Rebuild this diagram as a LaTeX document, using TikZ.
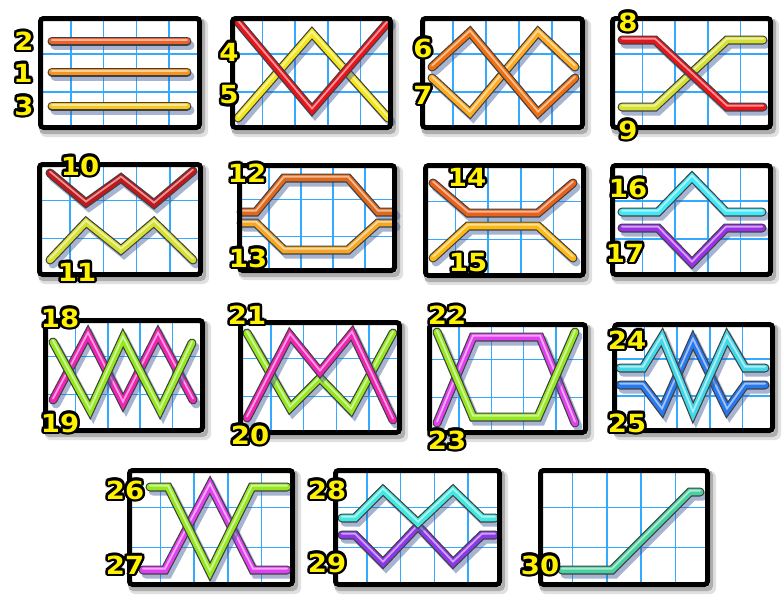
\documentclass[tikz,border=0pt]{standalone}
\usepackage{fontspec}
\newfontfamily\lblfont{DejaVu Sans}[FakeStretch=1.1]
\definecolor{gridblue}{HTML}{33AAFF}
\definecolor{shadowblue}{HTML}{3A5A9A}
\definecolor{cA}{HTML}{F0602A}
\definecolor{cB}{HTML}{F7941D}
\definecolor{cC}{HTML}{F8C81C}
\definecolor{cRed}{HTML}{E8141C}
\definecolor{cYel}{HTML}{F5E61A}
\definecolor{cOr}{HTML}{F07010}
\definecolor{cLOr}{HTML}{FFAA20}
\definecolor{cYG}{HTML}{D6E030}
\definecolor{cDRed}{HTML}{C0181C}
\definecolor{cOr2}{HTML}{E0681A}
\definecolor{cLOr2}{HTML}{F5A623}
\definecolor{cOr3}{HTML}{E8601A}
\definecolor{cGold}{HTML}{FFB810}
\definecolor{cCyan}{HTML}{40E8F8}
\definecolor{cPurp}{HTML}{9A30E8}
\definecolor{cGreen}{HTML}{96E81E}
\definecolor{cMag}{HTML}{F024B4}
\definecolor{cViol}{HTML}{E040F0}
\definecolor{cCyan2}{HTML}{40D8E8}
\definecolor{cBlue}{HTML}{2878F0}
\definecolor{cTeal}{HTML}{40E8E0}
\definecolor{cPurp2}{HTML}{8C38E8}
\definecolor{cMint}{HTML}{48D0A0}
\definecolor{lblyellow}{HTML}{FFF200}
\tikzset{
  gridline/.style={gridblue, line width=1.5pt},
  frame/.style={black, line width=5pt, rounded corners=3pt},
  tubeshadow/.style={shadowblue, opacity=0.45, line width=9pt, line cap=round},
  tubeedge/.style={black!75, line width=9pt, line cap=round},
  tubebody/.style={line width=6.6pt, line cap=round},
  lblout/.style={text=black, inner sep=0pt, font=\lblfont\bfseries\fontsize{25}{25}\selectfont},
  lbltext/.style={text=lblyellow, inner sep=0pt, font=\lblfont\bfseries\fontsize{25}{25}\selectfont},
}
\newcommand\panelbg[4]{%
  \fill[black, opacity=0.12, rounded corners=6pt] (#1+2,#2+3) rectangle (#3+6,#4+7);
  \fill[black, opacity=0.22, rounded corners=5pt] (#1+1,#2+2) rectangle (#3+3,#4+4);
  \fill[white, rounded corners=4pt] (#1,#2) rectangle (#3,#4);
  \foreach \k in {1,2,3,4} \draw[gridline] ({#1+(#3-#1)*\k/5},#2) -- ({#1+(#3-#1)*\k/5},#4);
  \foreach \k in {1,2} \draw[gridline] (#1,{#2+(#4-#2)*\k/3}) -- (#3,{#2+(#4-#2)*\k/3});
}
\newcommand\panelframe[4]{%
  \draw[frame] (#1+2.5,#2+2.5) rectangle (#3-2.5,#4-2.5);
}
\newcommand\tube[2]{%
  \draw[tubeshadow, shift={(3,4)}] #2;
  \draw[tubeedge] #2;
  \draw[tubebody, #1] #2;
  \draw[line width=1.8pt, line cap=round, #1!45!white, shift={(0,-1.4)}] #2;
}
\newcommand\lbl[3]{%
  \foreach \a in {0,30,...,330} \node[lblout] at ([shift={(\a:2.6)}]#2) {#3};
  \node[lbltext] (#1) at (#2) {#3};
}
\begin{document}
\begin{tikzpicture}[x=1pt,y=-1pt]
\useasboundingbox (0,0) rectangle (782,600);
\fill[white] (0,0) rectangle (782,600);
% P1
\panelbg{38}{16}{202}{130}
\tube{cA}{(52,41) -- (187,41)}
\tube{cB}{(52,72) -- (187,72)}
\tube{cC}{(52,106) -- (187,106)}
\panelframe{38}{16}{202}{130}
% P2
\panelbg{230}{16}{393}{130}
\tube{cYel}{(238,118) -- (312,33) -- (388,118)}
\tube{cRed}{(238,22) -- (312,110) -- (388,22)}
\panelframe{230}{16}{393}{130}
% P3
\panelbg{420}{16}{585}{130}
\tube{cLOr}{(432,78) -- (470,113) -- (538,32) -- (575,67)}
\tube{cOr}{(432,67) -- (470,32) -- (538,113) -- (575,78)}
\panelframe{420}{16}{585}{130}
% P4
\panelbg{610}{16}{773}{130}
\tube{cYG}{(622,107) -- (655,107) -- (727,40) -- (763,40)}
\tube{cRed}{(622,40) -- (655,40) -- (727,107) -- (763,107)}
\panelframe{610}{16}{773}{130}
% P5
\panelbg{37}{162}{203}{277}
\tube{cYG}{(50,260) -- (86,222) -- (121,250) -- (154,222) -- (193,260)}
\tube{cDRed}{(50,173) -- (86,203) -- (121,178) -- (154,204) -- (193,171)}
\panelframe{37}{162}{203}{277}
% P6
\panelbg{237}{163}{397}{273}
\tube{cLOr2}{(241,223) -- (256,223) -- (284,250) -- (348,250) -- (378,223) -- (393,223)}
\tube{cOr2}{(241,212) -- (256,212) -- (284,178) -- (348,178) -- (378,212) -- (393,212)}
\panelframe{237}{163}{397}{273}
% P7
\panelbg{423}{163}{586}{278}
\tube{cGold}{(433,258) -- (468,226) -- (538,226) -- (573,258)}
\tube{cOr3}{(433,183) -- (468,213) -- (538,213) -- (573,183)}
\panelframe{423}{163}{586}{278}
% P8
\panelbg{610}{163}{773}{277}
\tube{cPurp}{(622,228) -- (658,228) -- (692,263) -- (726,228) -- (762,228)}
\tube{cCyan}{(622,212) -- (658,212) -- (692,177) -- (726,212) -- (762,212)}
\panelframe{610}{163}{773}{277}
% P9
\panelbg{43}{318}{205}{433}
\tube{cMag}{(53,400) -- (88,334) -- (123,403) -- (158,334) -- (193,400)}
\tube{cGreen}{(53,342) -- (90,410) -- (123,338) -- (160,410) -- (192,343)}
\panelframe{43}{318}{205}{433}
% P10
\panelbg{238}{320}{402}{435}
\tube{cGreen}{(247,333) -- (290,408) -- (320,378) -- (351,410) -- (393,333)}
\tube{cMag}{(247,418) -- (290,335) -- (320,372) -- (352,333) -- (393,420)}
\panelframe{238}{320}{402}{435}
% P11
\panelbg{427}{322}{588}{435}
\tube{cViol}{(437,423) -- (473,337) -- (540,337) -- (575,423)}
\tube{cGreen}{(437,332) -- (473,417) -- (538,417) -- (575,332)}
\panelframe{427}{322}{588}{435}
% P12
\panelbg{612}{322}{775}{433}
\tube{cBlue}{(620,385) -- (643,385) -- (662,410) -- (693,340) -- (727,410) -- (745,385) -- (765,385)}
\tube{cCyan2}{(620,368) -- (643,368) -- (662,337) -- (693,413) -- (727,337) -- (745,368) -- (765,368)}
\panelframe{612}{322}{775}{433}
% P13
\panelbg{127}{468}{295}{587}
\tube{cViol}{(143,570) -- (165,570) -- (210,485) -- (253,570) -- (287,570)}
\tube{cGreen}{(150,487) -- (168,487) -- (210,572) -- (252,487) -- (287,487)}
\panelframe{127}{468}{295}{587}
% P14
\panelbg{333}{468}{502}{587}
\tube{cPurp2}{(342,535) -- (355,535) -- (383,563) -- (418,526) -- (453,563) -- (482,535) -- (495,535)}
\tube{cTeal}{(342,518) -- (355,518) -- (383,490) -- (418,523) -- (453,490) -- (482,518) -- (495,518)}
\panelframe{333}{468}{502}{587}
% P15
\panelbg{538}{468}{710}{587}
\tube{cMint}{(562,570) -- (612,570) -- (690,492) -- (700,492)}
\panelframe{538}{468}{710}{587}
% labels
\lbl{l2}{24,41}{2}
\lbl{l1}{23,73}{1}
\lbl{l3}{24,106}{3}
\lbl{l4}{229,52}{4}
\lbl{l5}{229,95}{5}
\lbl{l6}{423,48}{6}
\lbl{l7}{423,95}{7}
\lbl{l8}{628,22}{8}
\lbl{l9}{628,130}{9}
\lbl{l10}{80,166}{10}
\lbl{l11}{77,272}{11}
\lbl{l12}{247,173}{12}
\lbl{l13}{248,258}{13}
\lbl{l14}{467,177}{14}
\lbl{l15}{468,263}{15}
\lbl{l16}{628,188}{16}
\lbl{l17}{625,253}{17}
\lbl{l18}{60,318}{18}
\lbl{l19}{60,423}{19}
\lbl{l21}{247,315}{21}
\lbl{l20}{250,435}{20}
\lbl{l22}{447,315}{22}
\lbl{l23}{447,440}{23}
\lbl{l24}{627,340}{24}
\lbl{l25}{627,423}{25}
\lbl{l26}{125,490}{26}
\lbl{l27}{125,565}{27}
\lbl{l28}{327,490}{28}
\lbl{l29}{327,563}{29}
\lbl{l30}{540,565}{30}
\end{tikzpicture}
\end{document}
